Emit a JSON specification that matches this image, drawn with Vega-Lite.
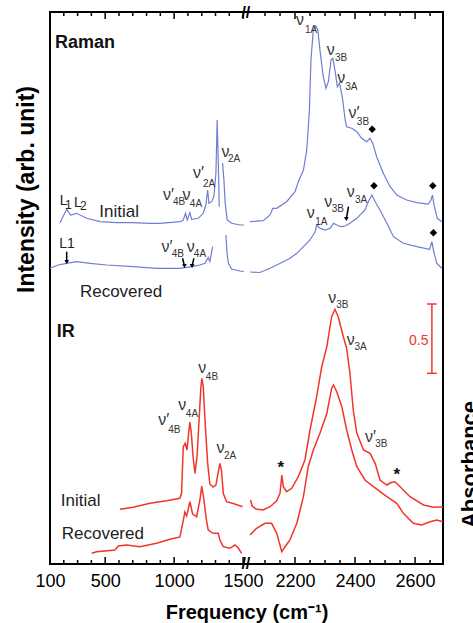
{
"$schema": "https://vega.github.io/schema/vega-lite/v6.json",
"width": 393, "height": 552,
"autosize": {"type": "none"},
"padding": {"left": 50, "top": 12, "right": 30, "bottom": 59},
"background": "white",
"config": {"font": "Liberation Sans", "view": {"stroke": "#000", "strokeWidth": 2}, "axis": {"grid": false, "domain": false, "ticks": false, "tickSize": 0, "labelColor": "#000", "titleColor": "#000", "labelFont": "Liberation Sans", "titleFont": "Liberation Sans"}},
"datasets": {
"raman": [
{"t":"Ia","f":172,"v":341.3},{"t":"Ia","f":221,"v":354.7},{"t":"Ia","f":250,"v":349},{"t":"Ia","f":293,"v":350.7},{"t":"Ia","f":366,"v":345.7},{"t":"Ia","f":462,"v":342.3},{"t":"Ia","f":583,"v":341.3},{"t":"Ia","f":701,"v":341.3},{"t":"Ia","f":825,"v":340.7},{"t":"Ia","f":897,"v":340.7},{"t":"Ia","f":1042,"v":342.3},{"t":"Ia","f":1066,"v":344},{"t":"Ia","f":1083,"v":350.7},{"t":"Ia","f":1095,"v":344},{"t":"Ia","f":1114,"v":351.3},{"t":"Ia","f":1127,"v":344.7},{"t":"Ia","f":1175,"v":345.7},{"t":"Ia","f":1211,"v":350.7},{"t":"Ia","f":1230,"v":359},{"t":"Ia","f":1243,"v":374},{"t":"Ia","f":1252,"v":360.7},{"t":"Ia","f":1272,"v":362.3},{"t":"Ia","f":1288,"v":367.3},{"t":"Ia","f":1303,"v":390.7},{"t":"Ia","f":1312,"v":444},{"t":"Ia","f":1322,"v":390.7},{"t":"Ia","f":1327,"v":357.3},
{"t":"Ib","f":1351,"v":401},{"t":"Ib","f":1361,"v":384},{"t":"Ib","f":1370,"v":360.7},{"t":"Ib","f":1385,"v":344},{"t":"Ib","f":1417,"v":340.7},{"t":"Ib","f":1477,"v":339},{"t":"Ib","f":1506,"v":339},
{"t":"Ic","f":2050,"v":342.3},{"t":"Ic","f":2094,"v":343.3},{"t":"Ic","f":2117,"v":349},{"t":"Ic","f":2126,"v":355.7},{"t":"Ic","f":2139,"v":355.7},{"t":"Ic","f":2172,"v":362.3},{"t":"Ic","f":2200,"v":372.3},{"t":"Ic","f":2211,"v":382.3},{"t":"Ic","f":2228,"v":394},{"t":"Ic","f":2239,"v":414},{"t":"Ic","f":2248,"v":454},{"t":"Ic","f":2253,"v":504},{"t":"Ic","f":2261,"v":534},{"t":"Ic","f":2269,"v":538},{"t":"Ic","f":2276,"v":534},{"t":"Ic","f":2283,"v":514},{"t":"Ic","f":2294,"v":487.3},{"t":"Ic","f":2303,"v":475.7},{"t":"Ic","f":2311,"v":482.3},{"t":"Ic","f":2320,"v":504},{"t":"Ic","f":2326,"v":505.7},{"t":"Ic","f":2333,"v":494},{"t":"Ic","f":2341,"v":477.3},{"t":"Ic","f":2348,"v":480.7},{"t":"Ic","f":2352,"v":475.7},{"t":"Ic","f":2359,"v":464},{"t":"Ic","f":2367,"v":444},{"t":"Ic","f":2372,"v":437.3},{"t":"Ic","f":2389,"v":435.7},{"t":"Ic","f":2406,"v":432.3},{"t":"Ic","f":2422,"v":425.7},{"t":"Ic","f":2439,"v":422.3},{"t":"Ic","f":2450,"v":425.7},{"t":"Ic","f":2459,"v":420.7},{"t":"Ic","f":2472,"v":407.3},{"t":"Ic","f":2494,"v":390.7},{"t":"Ic","f":2517,"v":377.3},{"t":"Ic","f":2539,"v":369},{"t":"Ic","f":2572,"v":364},{"t":"Ic","f":2606,"v":361.3},{"t":"Ic","f":2644,"v":360},{"t":"Ic","f":2653,"v":364},{"t":"Ic","f":2658,"v":369},{"t":"Ic","f":2663,"v":359},{"t":"Ic","f":2674,"v":345.7},{"t":"Ic","f":2689,"v":342.3},
{"t":"Ra","f":100,"v":295.7},{"t":"Ra","f":160,"v":299},{"t":"Ra","f":221,"v":300.7},{"t":"Ra","f":293,"v":302.3},{"t":"Ra","f":390,"v":300.7},{"t":"Ra","f":511,"v":299},{"t":"Ra","f":704,"v":297.3},{"t":"Ra","f":873,"v":295.7},{"t":"Ra","f":1042,"v":295.7},{"t":"Ra","f":1127,"v":297.3},{"t":"Ra","f":1187,"v":299},{"t":"Ra","f":1223,"v":300.7},{"t":"Ra","f":1247,"v":306.5},{"t":"Ra","f":1259,"v":302.3},{"t":"Ra","f":1279,"v":317.3},
{"t":"Rb","f":1375,"v":329},{"t":"Rb","f":1385,"v":309},{"t":"Rb","f":1393,"v":301},{"t":"Rb","f":1417,"v":295},{"t":"Rb","f":1477,"v":293},{"t":"Rb","f":1506,"v":292.5},
{"t":"Rc","f":2050,"v":292},{"t":"Rc","f":2083,"v":291.5},{"t":"Rc","f":2117,"v":295.7},{"t":"Rc","f":2161,"v":302.3},{"t":"Rc","f":2183,"v":305.7},{"t":"Rc","f":2206,"v":310.7},{"t":"Rc","f":2228,"v":317.3},{"t":"Rc","f":2250,"v":324},{"t":"Rc","f":2267,"v":332.3},{"t":"Rc","f":2272,"v":339},{"t":"Rc","f":2283,"v":335.7},{"t":"Rc","f":2300,"v":334},{"t":"Rc","f":2317,"v":335.7},{"t":"Rc","f":2328,"v":340.7},{"t":"Rc","f":2339,"v":339},{"t":"Rc","f":2352,"v":337.3},{"t":"Rc","f":2367,"v":338},{"t":"Rc","f":2383,"v":340.7},{"t":"Rc","f":2406,"v":345.7},{"t":"Rc","f":2433,"v":354},{"t":"Rc","f":2444,"v":362.3},{"t":"Rc","f":2456,"v":369},{"t":"Rc","f":2467,"v":362.3},{"t":"Rc","f":2483,"v":354},{"t":"Rc","f":2506,"v":340.7},{"t":"Rc","f":2528,"v":327.3},{"t":"Rc","f":2561,"v":320.7},{"t":"Rc","f":2606,"v":317.3},{"t":"Rc","f":2648,"v":314.7},{"t":"Rc","f":2656,"v":322.3},{"t":"Rc","f":2661,"v":314},{"t":"Rc","f":2672,"v":300.7},{"t":"Rc","f":2689,"v":295.7}
],
"ir": [
{"t":"Ia","f":607,"v":54.7},{"t":"Ia","f":704,"v":56.7},{"t":"Ia","f":825,"v":60.7},{"t":"Ia","f":946,"v":63.3},{"t":"Ia","f":1042,"v":65.7},{"t":"Ia","f":1054,"v":71},{"t":"Ia","f":1066,"v":117.3},{"t":"Ia","f":1080,"v":120.7},{"t":"Ia","f":1093,"v":114},{"t":"Ia","f":1105,"v":130.7},{"t":"Ia","f":1114,"v":142},{"t":"Ia","f":1125,"v":130.7},{"t":"Ia","f":1136,"v":109},{"t":"Ia","f":1151,"v":90.7},{"t":"Ia","f":1167,"v":109},{"t":"Ia","f":1182,"v":147.3},{"t":"Ia","f":1194,"v":177.3},{"t":"Ia","f":1201,"v":185.7},{"t":"Ia","f":1211,"v":177.3},{"t":"Ia","f":1225,"v":140.7},{"t":"Ia","f":1243,"v":100.7},{"t":"Ia","f":1259,"v":80},{"t":"Ia","f":1283,"v":77},{"t":"Ia","f":1303,"v":79},{"t":"Ia","f":1320,"v":92.3},{"t":"Ia","f":1332,"v":100.7},{"t":"Ia","f":1344,"v":92.3},{"t":"Ia","f":1356,"v":70.7},{"t":"Ia","f":1380,"v":62.3},{"t":"Ia","f":1428,"v":60.5},{"t":"Ia","f":1496,"v":57.3},
{"t":"Ib","f":2052,"v":64},{"t":"Ib","f":2057,"v":58},{"t":"Ib","f":2070,"v":55},{"t":"Ib","f":2093,"v":54},{"t":"Ib","f":2117,"v":57.3},{"t":"Ib","f":2139,"v":63.3},{"t":"Ib","f":2150,"v":70.7},{"t":"Ib","f":2156,"v":89},{"t":"Ib","f":2161,"v":77.3},{"t":"Ib","f":2172,"v":72.3},{"t":"Ib","f":2189,"v":75.7},{"t":"Ib","f":2211,"v":87.3},{"t":"Ib","f":2233,"v":104},{"t":"Ib","f":2250,"v":134},{"t":"Ib","f":2272,"v":167.3},{"t":"Ib","f":2289,"v":197.3},{"t":"Ib","f":2306,"v":217.3},{"t":"Ib","f":2322,"v":247.3},{"t":"Ib","f":2333,"v":254.7},{"t":"Ib","f":2344,"v":247.3},{"t":"Ib","f":2361,"v":227.3},{"t":"Ib","f":2372,"v":215.7},{"t":"Ib","f":2383,"v":190.7},{"t":"Ib","f":2394,"v":154},{"t":"Ib","f":2406,"v":130.7},{"t":"Ib","f":2428,"v":114},{"t":"Ib","f":2450,"v":110.7},{"t":"Ib","f":2467,"v":100.7},{"t":"Ib","f":2483,"v":84},{"t":"Ib","f":2506,"v":79},{"t":"Ib","f":2520,"v":81.5},{"t":"Ib","f":2533,"v":82.3},{"t":"Ib","f":2550,"v":77.3},{"t":"Ib","f":2583,"v":67.3},{"t":"Ib","f":2628,"v":59},{"t":"Ib","f":2661,"v":56.7},{"t":"Ib","f":2693,"v":57.3},
{"t":"Ra","f":402,"v":10.7},{"t":"Ra","f":438,"v":12.3},{"t":"Ra","f":571,"v":14},{"t":"Ra","f":595,"v":18},{"t":"Ra","f":656,"v":19},{"t":"Ra","f":752,"v":17.3},{"t":"Ra","f":873,"v":20.7},{"t":"Ra","f":970,"v":24.7},{"t":"Ra","f":1042,"v":27},{"t":"Ra","f":1062,"v":40.7},{"t":"Ra","f":1078,"v":52},{"t":"Ra","f":1091,"v":48},{"t":"Ra","f":1114,"v":62.3},{"t":"Ra","f":1134,"v":50},{"t":"Ra","f":1163,"v":47.3},{"t":"Ra","f":1187,"v":64},{"t":"Ra","f":1200,"v":78},{"t":"Ra","f":1216,"v":64},{"t":"Ra","f":1234,"v":44},{"t":"Ra","f":1247,"v":34},{"t":"Ra","f":1283,"v":30.7},{"t":"Ra","f":1320,"v":30.7},{"t":"Ra","f":1332,"v":24},{"t":"Ra","f":1356,"v":17.3},{"t":"Ra","f":1404,"v":15.7},{"t":"Ra","f":1441,"v":19},{"t":"Ra","f":1466,"v":16},{"t":"Ra","f":1489,"v":10.7},
{"t":"Rb","f":2050,"v":29},{"t":"Rb","f":2072,"v":35.7},{"t":"Rb","f":2100,"v":40.7},{"t":"Rb","f":2122,"v":40.7},{"t":"Rb","f":2139,"v":30.7},{"t":"Rb","f":2156,"v":12.3},{"t":"Rb","f":2167,"v":17.3},{"t":"Rb","f":2183,"v":24},{"t":"Rb","f":2206,"v":40.7},{"t":"Rb","f":2228,"v":67.3},{"t":"Rb","f":2244,"v":97.3},{"t":"Rb","f":2261,"v":114},{"t":"Rb","f":2283,"v":130.7},{"t":"Rb","f":2306,"v":150.7},{"t":"Rb","f":2322,"v":175.7},{"t":"Rb","f":2328,"v":179},{"t":"Rb","f":2339,"v":172.3},{"t":"Rb","f":2356,"v":157.3},{"t":"Rb","f":2372,"v":134},{"t":"Rb","f":2389,"v":114},{"t":"Rb","f":2406,"v":97.3},{"t":"Rb","f":2433,"v":84},{"t":"Rb","f":2461,"v":77.3},{"t":"Rb","f":2506,"v":67.3},{"t":"Rb","f":2539,"v":60.7},{"t":"Rb","f":2561,"v":50.7},{"t":"Rb","f":2594,"v":40.7},{"t":"Rb","f":2622,"v":39},{"t":"Rb","f":2650,"v":42.3},{"t":"Rb","f":2672,"v":44},{"t":"Rb","f":2693,"v":42.3}
],
"ann": [
{"k":"nu","txt":"ν′","f":919,"v":364},{"k":"nu","txt":"ν","f":1061,"v":364},{"k":"nu","txt":"ν′","f":1136,"v":386},{"k":"nu","txt":"ν","f":1344,"v":407},{"k":"nu","txt":"ν","f":2203,"v":539},{"k":"nu","txt":"ν","f":2306,"v":509},{"k":"nu","txt":"ν","f":2341,"v":480.7},{"k":"nu","txt":"ν′","f":2378,"v":445.7},
{"k":"nu","txt":"ν′","f":909,"v":312},{"k":"nu","txt":"ν","f":1091,"v":312},{"k":"nu","txt":"ν","f":2239,"v":345.7},{"k":"nu","txt":"ν","f":2297,"v":357.3},{"k":"nu","txt":"ν","f":2372,"v":367.3},
{"k":"nu","txt":"ν′","f":885,"v":139},{"k":"nu","txt":"ν","f":1030,"v":154},{"k":"nu","txt":"ν","f":1175,"v":190.7},{"k":"nu","txt":"ν","f":1308,"v":110.7},{"k":"nu","txt":"ν","f":2311,"v":261.3},{"k":"nu","txt":"ν","f":2372,"v":219},{"k":"nu","txt":"ν′","f":2433,"v":122.3},
{"k":"sub","txt":"4B","f":991,"v":359},{"k":"sub","txt":"4A","f":1114,"v":357},{"k":"sub","txt":"2A","f":1209,"v":377},{"k":"sub","txt":"2A","f":1390,"v":402},{"k":"sub","txt":"1A","f":2233,"v":531},{"k":"sub","txt":"3B","f":2333,"v":503},{"k":"sub","txt":"3A","f":2367,"v":474},{"k":"sub","txt":"3B","f":2406,"v":439},
{"k":"sub","txt":"4B","f":982,"v":307},{"k":"sub","txt":"4A","f":1143,"v":307},{"k":"sub","txt":"1A","f":2267,"v":339},{"k":"sub","txt":"3B","f":2322,"v":352.3},{"k":"sub","txt":"3A","f":2400,"v":360.7},
{"k":"sub","txt":"4B","f":957,"v":131.3},{"k":"sub","txt":"4A","f":1085,"v":147.3},{"k":"sub","txt":"4B","f":1230,"v":184},{"k":"sub","txt":"2A","f":1361,"v":104.7},{"k":"sub","txt":"3B","f":2337,"v":255.7},{"k":"sub","txt":"3A","f":2398,"v":214},{"k":"sub","txt":"3B","f":2467,"v":116.7},
{"k":"lab","txt":"Initial","f":457,"v":347.3},{"k":"lab","txt":"Recovered","f":317,"v":267},{"k":"lab","txt":"Initial","f":178,"v":58},{"k":"lab","txt":"Recovered","f":185,"v":25},
{"k":"head","txt":"Raman","f":136,"v":516},{"k":"head","txt":"IR","f":149,"v":227},
{"k":"L","txt":"L","f":170,"v":359},{"k":"L","txt":"L","f":274,"v":357},{"k":"L","txt":"L1","f":167,"v":316},
{"k":"Ls","txt":"1","f":209,"v":355},{"k":"Ls","txt":"2","f":317,"v":354},
{"k":"star","txt":"*","f":2153,"v":91},{"k":"star","txt":"*","f":2539,"v":84.5},
{"k":"half","txt":"0.5","f":2580,"v":219},
{"k":"brk","txt":"//","f":1520,"v":0},{"k":"brk","txt":"//","f":1520,"v":551}
],
"ticks": [
{"f":100,"m":"maj"},{"f":500,"m":"maj"},{"f":1000,"m":"maj"},{"f":1500,"m":"maj"},{"f":2200,"m":"maj"},{"f":2400,"m":"maj"},{"f":2600,"m":"maj"},
{"f":200,"m":"min"},{"f":300,"m":"min"},{"f":400,"m":"min"},{"f":600,"m":"min"},{"f":700,"m":"min"},{"f":800,"m":"min"},{"f":900,"m":"min"},{"f":1100,"m":"min"},{"f":1200,"m":"min"},{"f":1300,"m":"min"},{"f":1400,"m":"min"},
{"f":2100,"m":"min"},{"f":2150,"m":"min"},{"f":2250,"m":"min"},{"f":2300,"m":"min"},{"f":2350,"m":"min"},{"f":2450,"m":"min"},{"f":2500,"m":"min"},{"f":2550,"m":"min"},{"f":2650,"m":"min"}
],
"dia": [{"f":2457,"v":434.7},{"f":2463,"v":378.3},{"f":2659,"v":378.3},{"f":2661,"v":331.3}],
"arr": [{"f":221,"v":312.3,"f2":221,"v2":302},{"f":1061,"v":305.7,"f2":1075,"v2":298},{"f":1143,"v":305.7,"f2":1130,"v2":298},{"f":2378,"v":357.3,"f2":2371,"v2":345}],
"bar": [{"f":2656,"v":190.7,"f2":2656,"v2":260},{"f":2640,"v":260,"f2":2672,"v2":260},{"f":2640,"v":190.7,"f2":2672,"v2":190.7}]
},
"resolve": {"axis": {"x": "independent", "y": "independent"}},
"layer": [
{"data": {"name": "raman"}, "mark": {"type": "line", "color": "#6f7ed0", "strokeWidth": 1.2},
 "encoding": {
  "x": {"field": "f", "type": "quantitative", "scale": {"type": "linear", "domain": [100, 1550, 2050, 2693], "range": [0, 200, 200, 393], "nice": false, "zero": false},
        "axis": {"orient": "bottom", "values": [100, 500, 1000, 1500, 2200, 2400, 2600], "format": "d", "ticks": false, "tickSize": 0, "labelPadding": 8, "labelFontSize": 18, "labelFlush": false, "labelOverlap": false, "labelBound": false, "title": "Frequency (cm⁻¹)", "titleFontSize": 20, "titleFontWeight": "bold", "titleBaseline": "alphabetic", "titleY": 54}},
  "y": {"field": "v", "type": "quantitative", "scale": {"domain": [0, 552], "nice": false, "zero": false},
        "axis": {"orient": "left", "ticks": false, "labels": false, "title": "Intensity (arb. unit)", "titleAngle": 270, "titleX": -16.5, "titleY": 177, "titleAlign": "center", "titleBaseline": "alphabetic", "titleFontSize": 23, "titleFontWeight": "bold"}},
  "detail": {"field": "t"}}},
{"data": {"name": "ir"}, "mark": {"type": "line", "color": "#f2352b", "strokeWidth": 1.5},
 "encoding": {
  "x": {"field": "f", "type": "quantitative", "scale": {"type": "linear", "domain": [100, 1550, 2050, 2693], "range": [0, 200, 200, 393], "nice": false, "zero": false}, "axis": null},
  "y": {"field": "v", "type": "quantitative", "scale": {"domain": [0, 552], "nice": false, "zero": false},
        "axis": {"orient": "right", "ticks": false, "labels": false, "title": "Absorbance", "titleAngle": 270, "titleX": 33, "titleY": 452, "titleAlign": "center", "titleBaseline": "alphabetic", "titleFontSize": 22, "titleFontWeight": "bold"}},
  "detail": {"field": "t"}}},
{"data": {"name": "ticks"}, "transform": [{"filter": "datum.m === 'maj'"}], "mark": {"type": "tick", "orient": "vertical", "size": 7, "thickness": 1.5, "color": "#000", "opacity": 1, "yOffset": -3.5},
 "encoding": {
  "x": {"field": "f", "type": "quantitative", "scale": {"type": "linear", "domain": [100, 1550, 2050, 2693], "range": [0, 200, 200, 393], "nice": false, "zero": false}, "axis": null},
  "y": {"datum": 0, "type": "quantitative", "scale": {"domain": [0, 552], "nice": false, "zero": false}, "axis": null}}},
{"data": {"name": "ticks"}, "transform": [{"filter": "datum.m === 'min'"}], "mark": {"type": "tick", "orient": "vertical", "size": 4, "thickness": 1.5, "color": "#000", "opacity": 1, "yOffset": -2},
 "encoding": {
  "x": {"field": "f", "type": "quantitative", "scale": {"type": "linear", "domain": [100, 1550, 2050, 2693], "range": [0, 200, 200, 393], "nice": false, "zero": false}, "axis": null},
  "y": {"datum": 0, "type": "quantitative", "scale": {"domain": [0, 552], "nice": false, "zero": false}, "axis": null}}},
{"data": {"name": "ticks"}, "transform": [{"filter": "datum.m === 'maj'"}], "mark": {"type": "tick", "orient": "vertical", "size": 7, "thickness": 1.5, "color": "#000", "opacity": 1, "yOffset": 3.5},
 "encoding": {
  "x": {"field": "f", "type": "quantitative", "scale": {"type": "linear", "domain": [100, 1550, 2050, 2693], "range": [0, 200, 200, 393], "nice": false, "zero": false}, "axis": null},
  "y": {"datum": 552, "type": "quantitative", "scale": {"domain": [0, 552], "nice": false, "zero": false}, "axis": null}}},
{"data": {"name": "ticks"}, "transform": [{"filter": "datum.m === 'min'"}], "mark": {"type": "tick", "orient": "vertical", "size": 4, "thickness": 1.5, "color": "#000", "opacity": 1, "yOffset": 2},
 "encoding": {
  "x": {"field": "f", "type": "quantitative", "scale": {"type": "linear", "domain": [100, 1550, 2050, 2693], "range": [0, 200, 200, 393], "nice": false, "zero": false}, "axis": null},
  "y": {"datum": 552, "type": "quantitative", "scale": {"domain": [0, 552], "nice": false, "zero": false}, "axis": null}}},
{"data": {"name": "ann"}, "transform": [{"filter": "datum.k === 'nu'"}],
 "mark": {"type": "text", "align": "left", "baseline": "alphabetic", "fontSize": 16, "color": "#333"},
 "encoding": {
  "x": {"field": "f", "type": "quantitative", "scale": {"type": "linear", "domain": [100, 1550, 2050, 2693], "range": [0, 200, 200, 393], "nice": false, "zero": false}, "axis": null},
  "y": {"field": "v", "type": "quantitative", "scale": {"domain": [0, 552], "nice": false, "zero": false}, "axis": null},
  "text": {"field": "txt"}}},
{"data": {"name": "ann"}, "transform": [{"filter": "datum.k === 'sub'"}],
 "mark": {"type": "text", "align": "left", "baseline": "alphabetic", "fontSize": 10, "color": "#333"},
 "encoding": {
  "x": {"field": "f", "type": "quantitative", "scale": {"type": "linear", "domain": [100, 1550, 2050, 2693], "range": [0, 200, 200, 393], "nice": false, "zero": false}, "axis": null},
  "y": {"field": "v", "type": "quantitative", "scale": {"domain": [0, 552], "nice": false, "zero": false}, "axis": null},
  "text": {"field": "txt"}}},
{"data": {"name": "ann"}, "transform": [{"filter": "datum.k === 'lab'"}],
 "mark": {"type": "text", "align": "left", "baseline": "alphabetic", "fontSize": 17, "color": "#222"},
 "encoding": {
  "x": {"field": "f", "type": "quantitative", "scale": {"type": "linear", "domain": [100, 1550, 2050, 2693], "range": [0, 200, 200, 393], "nice": false, "zero": false}, "axis": null},
  "y": {"field": "v", "type": "quantitative", "scale": {"domain": [0, 552], "nice": false, "zero": false}, "axis": null},
  "text": {"field": "txt"}}},
{"data": {"name": "ann"}, "transform": [{"filter": "datum.k === 'head'"}],
 "mark": {"type": "text", "align": "left", "baseline": "alphabetic", "fontSize": 18, "fontWeight": "bold", "color": "#111"},
 "encoding": {
  "x": {"field": "f", "type": "quantitative", "scale": {"type": "linear", "domain": [100, 1550, 2050, 2693], "range": [0, 200, 200, 393], "nice": false, "zero": false}, "axis": null},
  "y": {"field": "v", "type": "quantitative", "scale": {"domain": [0, 552], "nice": false, "zero": false}, "axis": null},
  "text": {"field": "txt"}}},
{"data": {"name": "ann"}, "transform": [{"filter": "datum.k === 'L'"}],
 "mark": {"type": "text", "align": "left", "baseline": "alphabetic", "fontSize": 14, "color": "#222"},
 "encoding": {
  "x": {"field": "f", "type": "quantitative", "scale": {"type": "linear", "domain": [100, 1550, 2050, 2693], "range": [0, 200, 200, 393], "nice": false, "zero": false}, "axis": null},
  "y": {"field": "v", "type": "quantitative", "scale": {"domain": [0, 552], "nice": false, "zero": false}, "axis": null},
  "text": {"field": "txt"}}},
{"data": {"name": "ann"}, "transform": [{"filter": "datum.k === 'Ls'"}],
 "mark": {"type": "text", "align": "left", "baseline": "alphabetic", "fontSize": 12, "color": "#222"},
 "encoding": {
  "x": {"field": "f", "type": "quantitative", "scale": {"type": "linear", "domain": [100, 1550, 2050, 2693], "range": [0, 200, 200, 393], "nice": false, "zero": false}, "axis": null},
  "y": {"field": "v", "type": "quantitative", "scale": {"domain": [0, 552], "nice": false, "zero": false}, "axis": null},
  "text": {"field": "txt"}}},
{"data": {"name": "ann"}, "transform": [{"filter": "datum.k === 'star'"}],
 "mark": {"type": "text", "align": "center", "baseline": "alphabetic", "fontSize": 17, "fontWeight": "bold", "color": "#111"},
 "encoding": {
  "x": {"field": "f", "type": "quantitative", "scale": {"type": "linear", "domain": [100, 1550, 2050, 2693], "range": [0, 200, 200, 393], "nice": false, "zero": false}, "axis": null},
  "y": {"field": "v", "type": "quantitative", "scale": {"domain": [0, 552], "nice": false, "zero": false}, "axis": null},
  "text": {"field": "txt"}}},
{"data": {"name": "ann"}, "transform": [{"filter": "datum.k === 'half'"}],
 "mark": {"type": "text", "align": "left", "baseline": "alphabetic", "fontSize": 14, "color": "#f2352b"},
 "encoding": {
  "x": {"field": "f", "type": "quantitative", "scale": {"type": "linear", "domain": [100, 1550, 2050, 2693], "range": [0, 200, 200, 393], "nice": false, "zero": false}, "axis": null},
  "y": {"field": "v", "type": "quantitative", "scale": {"domain": [0, 552], "nice": false, "zero": false}, "axis": null},
  "text": {"field": "txt"}}},
{"data": {"name": "ann"}, "transform": [{"filter": "datum.k === 'brk'"}],
 "mark": {"type": "text", "align": "center", "baseline": "middle", "fontSize": 16, "fontWeight": "bold", "color": "#000"},
 "encoding": {
  "x": {"field": "f", "type": "quantitative", "scale": {"type": "linear", "domain": [100, 1550, 2050, 2693], "range": [0, 200, 200, 393], "nice": false, "zero": false}, "axis": null},
  "y": {"field": "v", "type": "quantitative", "scale": {"domain": [0, 552], "nice": false, "zero": false}, "axis": null},
  "text": {"field": "txt"}}},
{"data": {"name": "dia"}, "mark": {"type": "point", "shape": "diamond", "filled": true, "color": "#000", "size": 55, "opacity": 1},
 "encoding": {
  "x": {"field": "f", "type": "quantitative", "scale": {"type": "linear", "domain": [100, 1550, 2050, 2693], "range": [0, 200, 200, 393], "nice": false, "zero": false}, "axis": null},
  "y": {"field": "v", "type": "quantitative", "scale": {"domain": [0, 552], "nice": false, "zero": false}, "axis": null}}},
{"data": {"name": "arr"}, "mark": {"type": "rule", "color": "#000", "strokeWidth": 1.5},
 "encoding": {
  "x": {"field": "f", "type": "quantitative", "scale": {"type": "linear", "domain": [100, 1550, 2050, 2693], "range": [0, 200, 200, 393], "nice": false, "zero": false}, "axis": null},
  "y": {"field": "v", "type": "quantitative", "scale": {"domain": [0, 552], "nice": false, "zero": false}, "axis": null},
  "x2": {"field": "f2"}, "y2": {"field": "v2"}}},
{"data": {"name": "arr"}, "mark": {"type": "point", "shape": "triangle-down", "filled": true, "color": "#000", "size": 22, "opacity": 1},
 "encoding": {
  "x": {"field": "f2", "type": "quantitative", "scale": {"type": "linear", "domain": [100, 1550, 2050, 2693], "range": [0, 200, 200, 393], "nice": false, "zero": false}, "axis": null},
  "y": {"field": "v2", "type": "quantitative", "scale": {"domain": [0, 552], "nice": false, "zero": false}, "axis": null}}},
{"data": {"name": "bar"}, "mark": {"type": "rule", "color": "#f2352b", "strokeWidth": 1.5},
 "encoding": {
  "x": {"field": "f", "type": "quantitative", "scale": {"type": "linear", "domain": [100, 1550, 2050, 2693], "range": [0, 200, 200, 393], "nice": false, "zero": false}, "axis": null},
  "y": {"field": "v", "type": "quantitative", "scale": {"domain": [0, 552], "nice": false, "zero": false}, "axis": null},
  "x2": {"field": "f2"}, "y2": {"field": "v2"}}}
]
}
